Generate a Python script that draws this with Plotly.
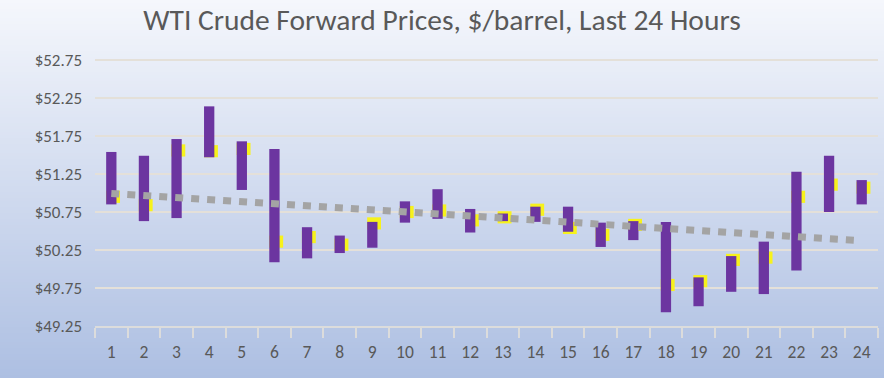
import numpy as np
import plotly.graph_objects as go

# ---- data ----
hours = [str(h) for h in range(1, 25)]
high = [51.54, 51.49, 51.71, 52.14, 51.68, 51.58, 50.55, 50.44, 50.62, 50.89, 51.05, 50.79,
        50.73, 50.82, 50.82, 50.61, 50.63, 50.62, 49.89, 50.17, 50.36, 51.28, 51.49, 51.17]
low = [50.85, 50.63, 50.67, 51.47, 51.04, 50.09, 50.14, 50.21, 50.28, 50.61, 50.66, 50.48,
       50.63, 50.62, 50.49, 50.29, 50.38, 49.43, 49.51, 49.70, 49.67, 49.98, 50.75, 50.85]
close = [50.95, 50.84, 51.56, 51.55, 51.58, 50.36, 50.42, 50.32, 50.60, 50.75, 50.77, 50.64,
         50.68, 50.78, 50.54, 50.45, 50.58, 49.79, 49.84, 50.12, 50.15, 50.95, 51.11, 51.07]
y_ticks = [49.25, 49.75, 50.25, 50.75, 51.25, 51.75, 52.25, 52.75]
title = "WTI Crude Forward Prices, $/barrel, Last 24 Hours"

# linear trendline of the closing prices (as in the original chart)
xs = np.arange(1, len(close) + 1)
slope, intercept = np.polyfit(xs, close, 1)
trend_x = [hours[0], hours[-1]]
trend_y = [intercept + slope * xs[0], intercept + slope * xs[-1]]

W, H = 884, 378
ML, MR, MT, MB = 95, 6, 41, 52
Y_MIN, Y_MAX = 49.25, 53.0
MARK_H = 0.16

fig = go.Figure()

# yellow close markers (behind the purple bars)
fig.add_trace(go.Bar(
    x=hours, y=[MARK_H] * len(close), base=[c - MARK_H / 2 for c in close],
    offset=-0.158, width=0.425, marker=dict(color="#f7f21c", line=dict(width=0)),
    hoverinfo="skip", showlegend=False))

# purple high-low bars
fig.add_trace(go.Bar(
    x=hours, y=[h - l for h, l in zip(high, low)], base=low,
    offset=-0.158, width=0.316, marker=dict(color="#6c35a0", line=dict(width=0)),
    showlegend=False))

# dotted trendline
fig.add_trace(go.Scatter(
    x=trend_x, y=trend_y, mode="lines",
    line=dict(color="#a4a4a4", width=7, dash="8px,8px"),
    hoverinfo="skip", showlegend=False))

# vertical background gradient (drawn as thin bands)
top = np.array([0xF5, 0xF7, 0xFC])
bot = np.array([0xAD, 0xBF, 0xE2])
ph = H - MT - MB
shapes = []
step = 3
for py in range(0, H, step):
    t = (py + step / 2) / H
    c = top + (bot - top) * t
    col = "rgb(%d,%d,%d)" % tuple(int(round(v)) for v in c)
    y0 = (H - MB - py) / ph
    y1 = (H - MB - (py + step)) / ph
    shapes.append(dict(type="rect", xref="paper", yref="paper", x0=-0.2, x1=1.1,
                       y0=y1 - 0.002, y1=y0, fillcolor=col, line=dict(width=0),
                       layer="below"))

font_family = "Carlito, Lato, 'Open Sans', sans-serif"

fig.update_layout(
    width=W, height=H,
    margin=dict(l=ML, r=MR, t=MT, b=MB),
    paper_bgcolor="#d0daef",
    plot_bgcolor="rgba(0,0,0,0)",
    barmode="overlay",
    shapes=shapes,
    title=dict(text=title, x=0.5, xref="container", xanchor="center",
               y=1 - 20 / H, yref="container", yanchor="middle",
               font=dict(family=font_family, size=29.5, color="#595959")),
    font=dict(family=font_family, color="#595959"),
    xaxis=dict(type="category", categoryorder="array", categoryarray=hours,
               range=[-0.5, len(hours) - 0.5],
               showgrid=False, showline=True, linecolor="#dcdcdc", linewidth=1.5,
               ticks="outside", tickson="boundaries", ticklen=10, tickcolor="#dcdcdc",
               tickwidth=1.5, tickfont=dict(size=17.5, color="#595959"),
               ticklabelstandoff=9),
    yaxis=dict(range=[Y_MIN, Y_MAX], tickvals=y_ticks,
               ticktext=["$%.2f" % v for v in y_ticks],
               showgrid=True, gridcolor="#e4e0d9", gridwidth=1.5,
               zeroline=False, showline=False, ticks="",
               tickfont=dict(size=17, color="#595959"), ticklabelstandoff=12),
)

fig.write_html("out.html", config={"displayModeBar": False},
               post_script="document.body.style.margin='0';document.body.style.overflow='hidden';")
